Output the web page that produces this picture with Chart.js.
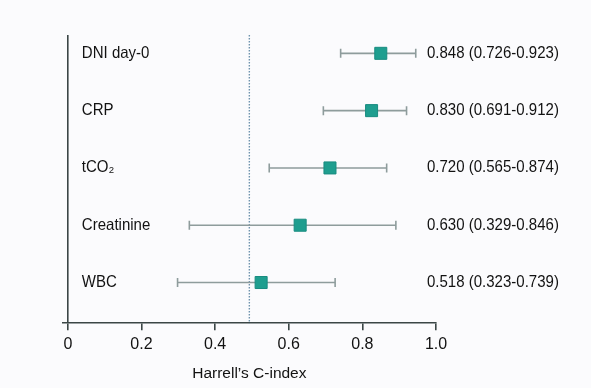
<!DOCTYPE html>
<html>
<head>
<meta charset="utf-8">
<script src="https://cdn.jsdelivr.net/npm/chart.js@4/dist/chart.umd.min.js"></script>
<style>
  html, body { margin: 0; padding: 0; background: #fbfbfd; }
  #wrap { width: 591px; height: 388px; position: relative; }
</style>
</head>
<body>
<div id="wrap"><canvas id="forest"></canvas></div>
<script>
// Data
const categories = ['DNI day-0', 'CRP', 'tCO\u2082', 'Creatinine', 'WBC'];
const cIndex = [0.850, 0.825, 0.712, 0.631, 0.525];
const ciLow = [0.741, 0.694, 0.547, 0.330, 0.298];
const ciHigh = [0.945, 0.920, 0.866, 0.891, 0.726];
const valueLabels = [
    '0.848 (0.726-0.923)',
    '0.830 (0.691-0.912)',
    '0.720 (0.565-0.874)',
    '0.630 (0.329-0.846)',
    '0.518 (0.323-0.739)'
];
const xTicks = [0, 0.2, 0.4, 0.6, 0.8, 1.0];
const refLine = 0.493;

const axisColor = '#3b4646';
const barColor = '#8e9c9c';
const boxColor = '#1f9e8f';
const textColor = '#121212';
const fontFamily = '"Liberation Sans", Arial, sans-serif';

// row positions, top row first
const rowPos = categories.map((c, i) => categories.length - i);

// draw text slightly condensed (the original uses a narrow Helvetica)
function narrowText(ctx, text, x, y) {
    ctx.save();
    ctx.translate(x, y);
    ctx.scale(0.91, 1);
    ctx.fillText(text, 0, 0);
    ctx.restore();
}

// Error bars, reference line and text drawn through the scales
const forestPlugin = {
    id: 'forest',
    beforeDatasetsDraw(chart) {
        const ctx = chart.ctx;
        const xs = chart.scales.x;
        const ys = chart.scales.y;
        const area = chart.chartArea;

        // dotted reference line
        const rx = xs.getPixelForValue(refLine);
        ctx.save();
        ctx.strokeStyle = '#6f93ad';
        ctx.lineWidth = 1.4;
        ctx.setLineDash([1.5, 1.5]);
        ctx.beginPath();
        ctx.moveTo(rx, area.top);
        ctx.lineTo(rx, area.bottom);
        ctx.stroke();
        ctx.restore();

        // confidence intervals
        ctx.save();
        ctx.strokeStyle = barColor;
        ctx.lineWidth = 1.6;
        categories.forEach((c, i) => {
            const y = ys.getPixelForValue(rowPos[i]);
            const x1 = xs.getPixelForValue(ciLow[i]);
            const x2 = xs.getPixelForValue(ciHigh[i]);
            ctx.beginPath();
            ctx.moveTo(x1, y);
            ctx.lineTo(x2, y);
            ctx.moveTo(x1, y - 4.5);
            ctx.lineTo(x1, y + 4.5);
            ctx.moveTo(x2, y - 4.5);
            ctx.lineTo(x2, y + 4.5);
            ctx.stroke();
        });
        ctx.restore();
    },
    afterDatasetsDraw(chart) {
        const ctx = chart.ctx;
        const xs = chart.scales.x;
        const ys = chart.scales.y;
        const area = chart.chartArea;
        ctx.save();
        ctx.fillStyle = textColor;
        ctx.font = '16.5px ' + fontFamily;
        ctx.textBaseline = 'middle';
        ctx.textAlign = 'left';
        categories.forEach((c, i) => {
            const y = ys.getPixelForValue(rowPos[i]);
            narrowText(ctx, c, xs.getPixelForValue(0) + 14, y);
            narrowText(ctx, valueLabels[i], area.right - 9, y);
        });
        ctx.restore();
    }
};

const chart = new Chart(document.getElementById('forest'), {
    type: 'scatter',
    data: {
        datasets: [{
            data: cIndex.map((v, i) => ({ x: v, y: rowPos[i] })),
            pointStyle: 'rect',
            pointRadius: 8.5,
            backgroundColor: boxColor,
            borderColor: '#198c80',
            borderWidth: 1
        }]
    },
    options: {
        responsive: true,
        maintainAspectRatio: false,
        animation: false,
        layout: {
            padding: { left: 62.7, right: 155, top: 35, bottom: 1 }
        },
        plugins: {
            legend: { display: false },
            tooltip: { enabled: false }
        },
        scales: {
            x: {
                type: 'linear',
                min: -0.014,
                max: 1.0,
                afterBuildTicks(scale) {
                    scale.ticks = xTicks.map(v => ({ value: v }));
                },
                border: { display: true, color: axisColor, width: 1.6 },
                grid: {
                    drawOnChartArea: true,
                    drawTicks: true,
                    tickLength: 7,
                    tickWidth: 1.6,
                    tickColor: axisColor,
                    lineWidth: 1.6,
                    color: (c) => (c.tick && c.tick.value === 0) ? axisColor : 'rgba(0,0,0,0)'
                },
                ticks: {
                    color: textColor,
                    padding: 5,
                    font: { family: fontFamily, size: 16 },
                    callback: (v) => v === 0 ? '0' : v.toFixed(1)
                },
                title: {
                    display: true,
                    text: 'Harrell\u2019s C-index',
                    color: textColor,
                    font: { family: fontFamily, size: 15.5 },
                    padding: { top: 5, bottom: 4 }
                }
            },
            y: {
                type: 'linear',
                display: false,
                min: 0.29,
                max: 5.32
            }
        }
    },
    plugins: [forestPlugin]
});
</script>
</body>
</html>
